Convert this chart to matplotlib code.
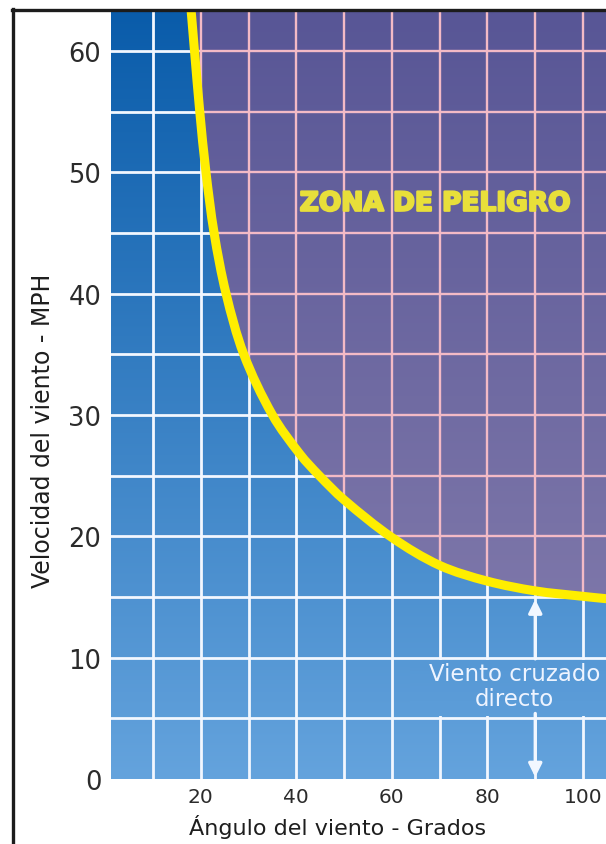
import numpy as np
import matplotlib
matplotlib.use("Agg")
import matplotlib.pyplot as plt
import matplotlib.patheffects as pe
from matplotlib.patches import Rectangle, PathPatch
from matplotlib.path import Path
from matplotlib.lines import Line2D

# Courbe limite (angle du vent en degrés, vitesse du vent en MPH)
angle = [18.0, 18.7, 19.8, 21.1, 22.8, 25.3, 29.0, 35.0, 40.8, 44.8,
         50.0, 60.0, 70.0, 80.0, 90.0, 100.0, 105.0]
speed = [63.3, 60.0, 55.0, 50.0, 45.0, 40.0, 35.0, 30.0, 26.75, 25.0,
         23.0, 19.9, 17.6, 16.3, 15.5, 15.05, 14.85]

x_ticks = [20, 40, 60, 80, 100]
y_ticks = [0, 10, 20, 30, 40, 50, 60]
x_grid = [10, 20, 30, 40, 50, 60, 70, 80, 90, 100]
y_grid = [5, 10, 15, 20, 25, 30, 35, 40, 45, 50, 55, 60]

danger_label = "ZONA DE PELIGRO"
crosswind_label = "Viento cruzado\ndirecto"
xlabel = "Ángulo del viento - Grados"
ylabel = "Velocidad del viento - MPH"

W, H = 606, 845
X_LIM = (1.23, 104.8)
Y_LIM = (0, 63.2)
PX_X, PX_Y = 4.779, 12.133  # pixels par unité (pour lisser la courbe)

FONT = "DejaVu Sans"


def gradient(top, bottom, n=256):
    top = np.array(top) / 255.0
    bottom = np.array(bottom) / 255.0
    t = np.linspace(0, 1, n)[:, None]
    return (bottom + (top - bottom) * t)[:, None, :]


def smooth_path(xs, ys):
    """Courbe de Bézier passant par les points lus (tracé lissé)."""
    p = np.column_stack([np.array(xs) * PX_X, np.array(ys) * PX_Y])
    n = len(p)
    tang = np.zeros_like(p)
    for i in range(n):
        a = p[max(i - 1, 0)]
        b = p[min(i + 1, n - 1)]
        d = b - a
        tang[i] = d / np.hypot(*d)
    verts = [p[0]]
    codes = [Path.MOVETO]
    for i in range(n - 1):
        d = np.hypot(*(p[i + 1] - p[i])) / 3
        verts += [p[i] + tang[i] * d, p[i + 1] - tang[i + 1] * d, p[i + 1]]
        codes += [Path.CURVE4] * 3
    verts = np.array(verts) / [PX_X, PX_Y]
    return Path(verts, codes)


def draw_chart(filename="out.png"):
    fig = plt.figure(figsize=(W / 100, H / 100), dpi=100)
    ax = fig.add_axes([111 / W, 1 - 780 / H, 1 - 111 / W, (780 - 13) / H])
    extent = [X_LIM[0], X_LIM[1], Y_LIM[0], Y_LIM[1]]

    # fond bleu dégradé
    blue = gradient((10, 92, 170), (100, 163, 221))
    ax.imshow(blue, extent=extent, aspect="auto", origin="lower", zorder=0)

    for x in x_grid:
        ax.axvline(x, color="#f2f7ff", lw=2.0, zorder=1)
    for y in y_grid:
        ax.axhline(y, color="#f2f7ff", lw=2.0, zorder=1)

    # zone de danger au-dessus de la courbe
    curve = smooth_path(angle, speed)
    zone_verts = np.vstack([curve.vertices,
                            [[120, speed[-1]], [120, 80], [angle[0], 80]]])
    zone_codes = list(curve.codes) + [Path.LINETO] * 3
    zone = PathPatch(Path(zone_verts, zone_codes), facecolor="none",
                     edgecolor="none")
    ax.add_patch(zone)
    purple = gradient((88, 86, 150), (136, 128, 175))
    img = ax.imshow(purple, extent=extent, aspect="auto", origin="lower",
                    zorder=2)
    img.set_clip_path(zone)
    for x in x_grid:
        ln = ax.axvline(x, color="#f3bac6", lw=1.7, zorder=3)
        ln.set_clip_path(zone)
    for y in y_grid:
        ln = ax.axhline(y, color="#f3bac6", lw=1.7, zorder=3)
        ln.set_clip_path(zone)

    # cadre du texte "viento cruzado" (on masque la grille)
    box = Rectangle((63.8, 5.17), 50, 4.66, facecolor="none",
                    edgecolor="none")
    ax.add_patch(box)
    patch_img = ax.imshow(blue, extent=extent, aspect="auto",
                          origin="lower", zorder=4)
    patch_img.set_clip_path(box)

    ax.text(85.6, 7.65, crosswind_label, ha="center", va="center",
            color="#eef4ff", fontsize=16.5, family=FONT, linespacing=1.1,
            zorder=5)

    ax.annotate("", xy=(90, 14.8), xytext=(90, 9.9),
                arrowprops=dict(arrowstyle="-|>", color="#f2f7ff", lw=2.4,
                                mutation_scale=20, shrinkA=0, shrinkB=0),
                zorder=5)
    ax.annotate("", xy=(90, 0.15), xytext=(90, 5.4),
                arrowprops=dict(arrowstyle="-|>", color="#f2f7ff", lw=2.4,
                                mutation_scale=20, shrinkA=0, shrinkB=0),
                zorder=5)

    ax.add_patch(PathPatch(curve, facecolor="none", edgecolor="#ffee00",
                           lw=6.5, capstyle="butt", zorder=6))

    ax.text(69.0, 47.4, danger_label, ha="center", va="center",
            color="#e8df3a", fontsize=19, fontweight="heavy",
            family=FONT, zorder=7,
            path_effects=[pe.withStroke(linewidth=1.6,
                                        foreground="#e8df3a")])

    ax.set_xlim(*X_LIM)
    ax.set_ylim(*Y_LIM)
    ax.set_xticks(x_ticks)
    ax.set_yticks(y_ticks)
    for s in ax.spines.values():
        s.set_visible(False)
    ax.tick_params(axis="both", length=0, colors="#2b2b2b")
    ax.tick_params(axis="x", pad=6.0, labelsize=14.5)
    ax.tick_params(axis="y", pad=7.0, labelsize=18.5)
    for lab in ax.get_xticklabels() + ax.get_yticklabels():
        lab.set_family(FONT)

    fig.text(338 / W, 1 - 827 / H, xlabel, ha="center", va="center",
             fontsize=16, family=FONT, color="#1e1e1e")
    fig.text(43 / W, 1 - 431 / H, ylabel, ha="center", va="center",
             rotation=90, fontsize=17, family=FONT, color="#1e1e1e")

    # cadre noir (gauche et haut)
    fig.add_artist(Line2D([13 / W, 13 / W], [0, 1 - 9.5 / H],
                          transform=fig.transFigure, color="#1c1c1c",
                          lw=2.4))
    fig.add_artist(Line2D([11.5 / W, 1], [1 - 11 / H, 1 - 11 / H],
                          transform=fig.transFigure, color="#1c1c1c",
                          lw=2.4))

    fig.savefig(filename, dpi=100)


if __name__ == "__main__":
    draw_chart()
